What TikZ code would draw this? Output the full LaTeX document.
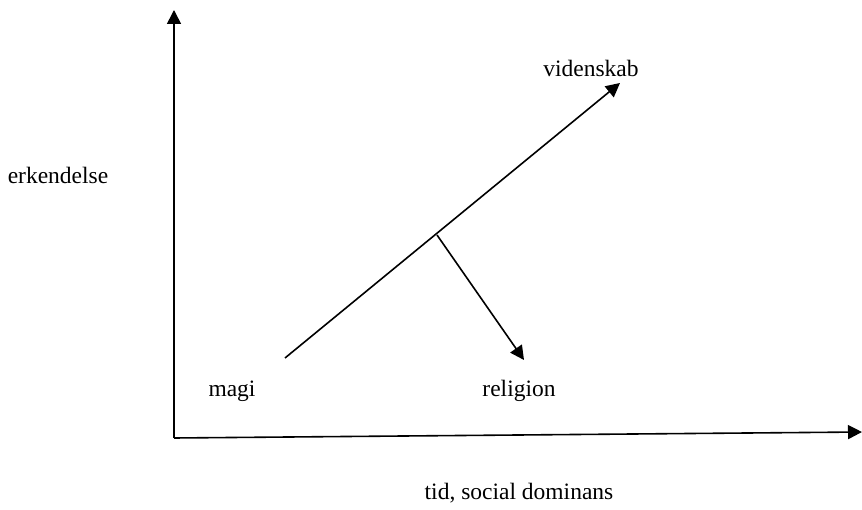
\documentclass[tikz,border=0pt]{standalone}
\usepackage{fontspec}
\setmainfont{Liberation Serif}
\usetikzlibrary{arrows.meta}
\begin{document}
\begin{tikzpicture}[x=1pt,y=-1pt,
  lbl/.style={font=\fontsize{23.5}{26}\selectfont, inner sep=0pt},
  arr/.style={line width=1.6pt, -{Triangle[length=14pt,width=14pt]}},
  ln/.style={line width=1.6pt}]
\useasboundingbox (0,0) rectangle (862,510);
\coordinate (o) at (174,438);
\coordinate (ytip) at (174,10);
\coordinate (xtip) at (862,432);
\coordinate (mstart) at (285,358);
\coordinate (vtip) at (620,83);
\coordinate (branch) at (437,235);
\coordinate (rtip) at (524,360);
\draw[arr] (o) -- (ytip);
\draw[arr] (o) -- (xtip);
\draw[arr] (mstart) -- (vtip);
\draw[arr] (branch) -- (rtip);
\node[lbl] (vid) at (591,68) {videnskab};
\node[lbl] (erk) at (58,175) {erkendelse};
\node[lbl] (magi) at (232,391) {magi};
\node[lbl] (rel) at (519,391) {religion};
\node[lbl] (tid) at (519,493) {tid, social dominans};
\end{tikzpicture}
\end{document}
